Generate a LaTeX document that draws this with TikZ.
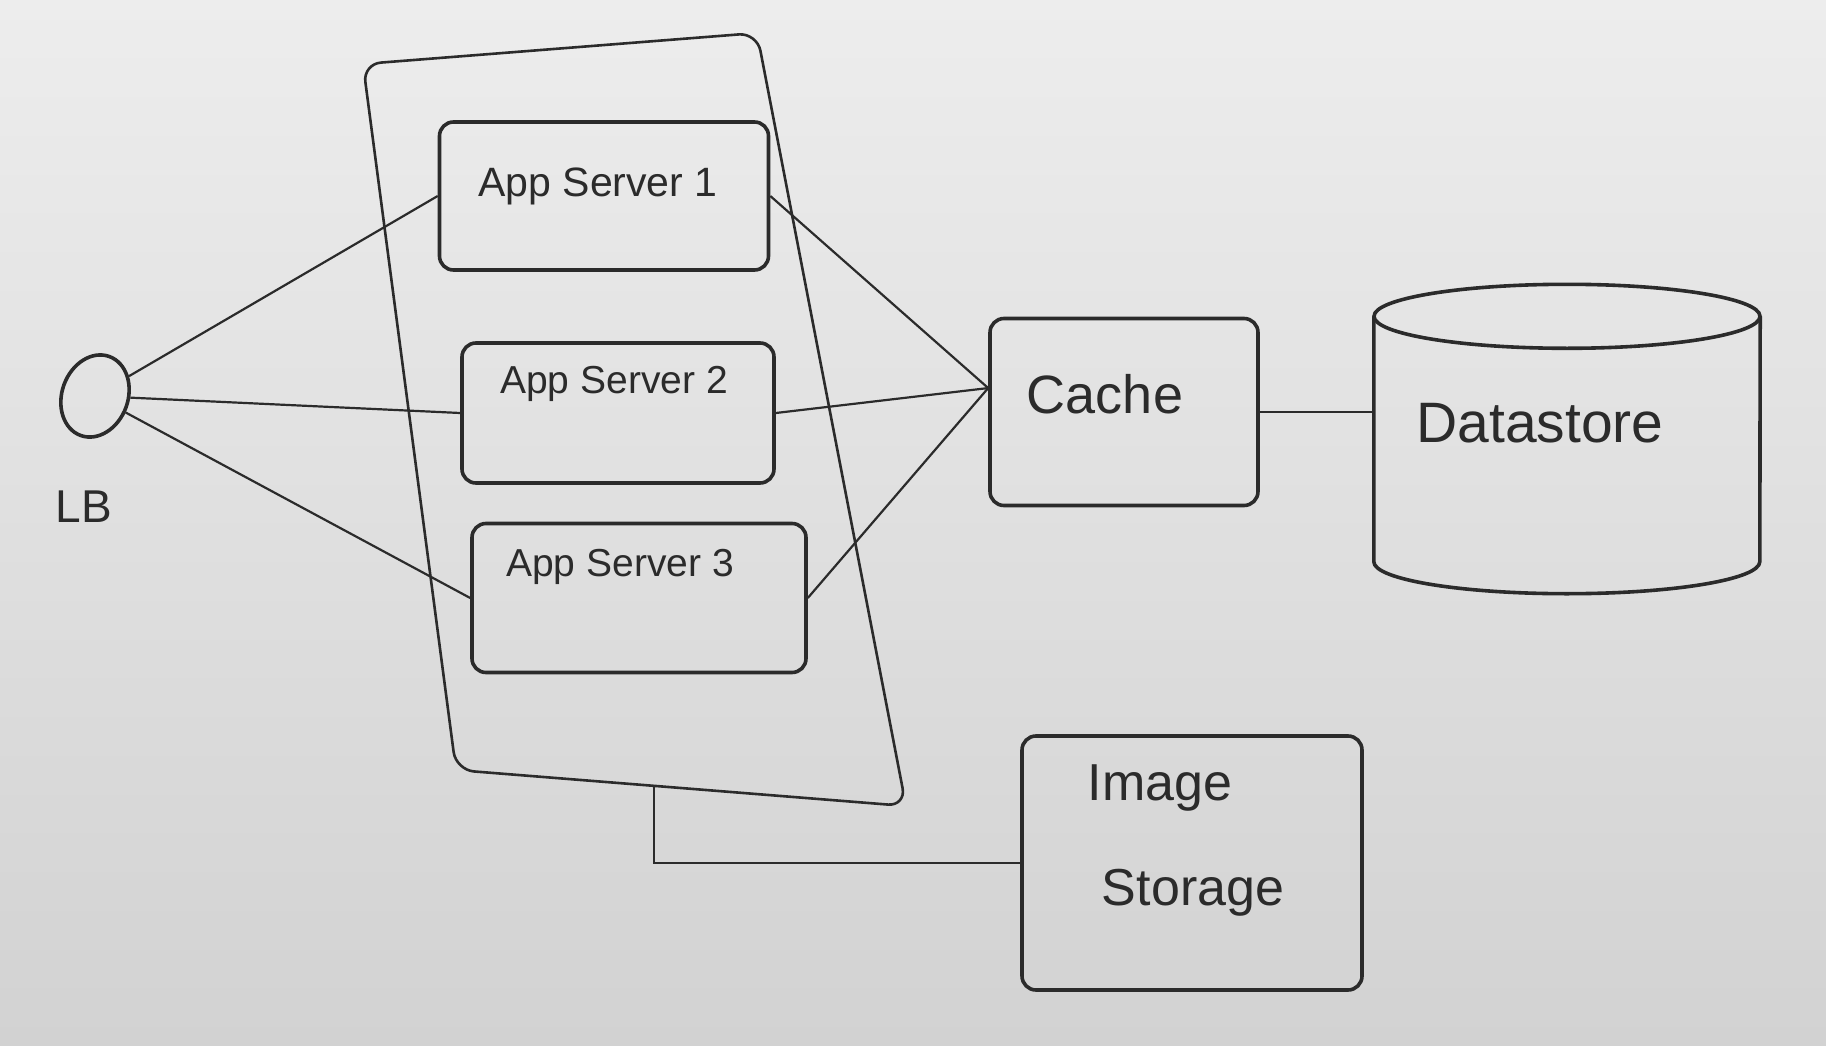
\documentclass[tikz,border=0pt]{standalone}
\usepackage{fontspec}
\setmainfont{Liberation Sans}
\usetikzlibrary{shapes.geometric}
\definecolor{ink}{HTML}{2B2B2B}
\definecolor{wbtop}{HTML}{EDEDED}
\definecolor{wbbot}{HTML}{D2D2D2}
\begin{document}
\begin{tikzpicture}[x=1pt,y=-1pt,
  box/.style={draw=ink, line width=3.6pt, rounded corners=14pt, inner sep=0pt},
  wire/.style={draw=ink, line width=2.2pt},
  lbl/.style={text=ink, inner sep=0pt, font=\fontsize{39}{44}\selectfont},
]
\shade[top color=wbtop, bottom color=wbbot] (0,0) rectangle (1826,1046);
\useasboundingbox (0,0) rectangle (1826,1046);

% container of the app servers
\coordinate (ctl) at (363,64);
\coordinate (ctr) at (757,33);
\coordinate (cbr) at (906,806);
\coordinate (cbl) at (456,770);
\draw[ink, line width=2.6pt, rounded corners=18pt] (ctl) -- (ctr) -- (cbr) -- (cbl) -- cycle;
\coordinate (cb) at (654,786);

% app servers
\node[box, minimum width=329pt, minimum height=148pt] (as1) at (604,196) {};
\node[box, minimum width=312pt, minimum height=140pt] (as2) at (618,413) {};
\node[box, minimum width=334pt, minimum height=149pt] (as3) at (639,598) {};
\node[lbl, font=\fontsize{41}{46}\selectfont] (t1) at (598,186) {App Server 1};
\node[lbl] (t2) at (614,384) {App Server 2};
\node[lbl] (t3) at (620,567) {App Server 3};

% load balancer
\node[draw=ink, line width=3.6pt, ellipse, minimum width=66pt, minimum height=84pt, inner sep=0pt, rotate=-20] (lb) at (95,396) {};
\node[lbl, font=\fontsize{46}{50}\selectfont] (tlb) at (84,507) {LB};

% cache
\node[box, minimum width=268pt, minimum height=187pt] (cache) at (1124,412) {};
\node[lbl, font=\fontsize{54}{60}\selectfont, anchor=base] (tc) at (1105,413) {Cache};

% datastore
\node[minimum width=386pt, minimum height=245pt, inner sep=0pt] (ds) at (1567,439) {};
\draw[ink, line width=3.6pt] (ds.north west) -- (ds.south west)
  arc[start angle=180, end angle=360, x radius=193pt, y radius=32pt] -- (ds.north east);
\draw[ink, line width=3.6pt] (ds.north) ellipse[x radius=193pt, y radius=32pt];
\node[lbl, font=\fontsize{57}{62}\selectfont] (tds) at (1540,423) {Datastore};

% image storage
\node[box, minimum width=340pt, minimum height=254pt] (is) at (1192,863) {};
\node[lbl, font=\fontsize{52}{58}\selectfont, anchor=base] (tis1) at (1160,800) {Image};
\node[lbl, font=\fontsize{52}{58}\selectfont, anchor=base] (tis2) at (1193,905) {Storage};

% connectors
\draw[wire] (lb) -- (as1.west);
\draw[wire] (lb) -- (as2.west);
\draw[wire] (lb) -- (as3.west);
\draw[wire] (as1.east) -- (cache.170);
\draw[wire] (as2.east) -- (cache.170);
\draw[wire] (as3.east) -- (cache.170);
\draw[wire] (cache.east) -- (cache.east -| ds.west);
\draw[wire] (cb) |- (is.west);
\end{tikzpicture}
\end{document}
